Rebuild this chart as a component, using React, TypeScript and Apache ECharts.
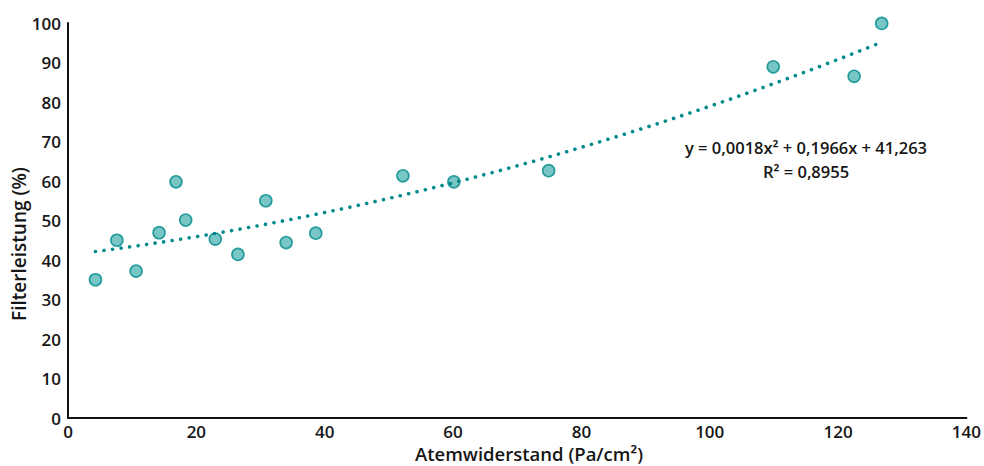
import React, { useEffect, useRef } from "react";
import * as echarts from "echarts";

const xValues = [4.28, 7.61, 10.61, 14.19, 16.83, 18.34, 22.95, 26.48, 30.83, 33.99, 38.61, 52.19, 60.13, 74.9, 109.9, 122.5, 126.8];
const yValues = [35.0, 45.0, 37.2, 46.9, 59.8, 50.1, 45.3, 41.4, 55.0, 44.4, 46.8, 61.3, 59.8, 62.6, 88.9, 86.5, 99.9];

// Trendline coefficients as printed on the chart
const coefA = 0.0018;
const coefB = 0.1966;
const coefC = 41.263;
const trendStart = 4.28;
const trendEnd = 126.6;

const equationText = "y = 0,0018x² + 0,1966x + 41,263";
const r2Text = "R² = 0,8955";
const xTitle = "Atemwiderstand (Pa/cm²)";
const yTitle = "Filterleistung (%)";

const FONT = "'Open Sans', 'Noto Sans', sans-serif";

export default function App() {
  const ref = useRef<HTMLDivElement>(null);
  useEffect(() => {
    if (!ref.current) return;
    const chart = echarts.init(ref.current, undefined, { renderer: "svg" });
    const scatterData = xValues.map((x, i) => [x, yValues[i]]);
    const trendData: number[][] = [];
    const steps = 120;
    for (let i = 0; i <= steps; i++) {
      const x = trendStart + ((trendEnd - trendStart) * i) / steps;
      trendData.push([x, coefA * x * x + coefB * x + coefC]);
    }
    const textStyle = (size: number) => ({
      fontSize: size,
      lineHeight: size,
      fontWeight: 600,
      fontFamily: FONT,
      fill: "#161616",
      textAlign: "center",
      textVerticalAlign: "middle",
    });
    chart.setOption({
      animation: false,
      grid: { left: 68, right: 16, top: 23, bottom: 48, containLabel: false },
      xAxis: {
        type: "value",
        min: 0,
        max: 140,
        interval: 20,
        axisLine: { show: true, lineStyle: { color: "#111", width: 2 } },
        axisTick: { show: false },
        splitLine: { show: false },
        axisLabel: { color: "#161616", fontSize: 17, lineHeight: 16, fontWeight: 600, fontFamily: FONT, margin: 5 },
      },
      yAxis: {
        type: "value",
        min: 0,
        max: 100,
        interval: 10,
        axisLine: { show: true, lineStyle: { color: "#111", width: 2 } },
        axisTick: { show: false },
        splitLine: { show: false },
        axisLabel: { color: "#161616", fontSize: 17, fontWeight: 600, fontFamily: FONT, margin: 7 },
      },
      series: [
        {
          type: "scatter",
          data: scatterData,
          symbolSize: 12,
          itemStyle: { color: "rgba(72,178,177,0.92)", borderColor: "#008a89", borderWidth: 1.6 },
          z: 2,
        },
        {
          type: "line",
          data: trendData,
          showSymbol: false,
          symbol: "none",
          smooth: false,
          lineStyle: { color: "#00898a", width: 3.6, type: [0.01, 8.6], cap: "round" },
          z: 3,
        },
      ],
      graphic: [
        { type: "text", x: 806, y: 147, style: { text: equationText, ...textStyle(16.5) } },
        { type: "text", x: 806, y: 171, style: { text: r2Text, ...textStyle(16.5) } },
        { type: "text", x: 529, y: 453, style: { text: xTitle, ...textStyle(18.5) } },
        { type: "text", x: 19, y: 244, rotation: Math.PI / 2, style: { text: yTitle, ...textStyle(19) } },
      ],
    });
    return () => chart.dispose();
  }, []);
  return (
    <div
      ref={ref}
      style={{ position: "fixed", left: 0, top: 0, width: 984, height: 466, background: "#fff" }}
    />
  );
}
